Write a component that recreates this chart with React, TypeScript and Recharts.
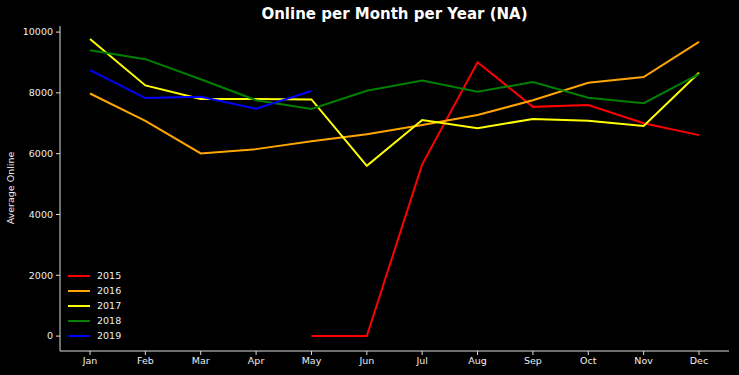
import React from 'react';
import { LineChart, Line, XAxis, YAxis } from 'recharts';

const months = ['Jan', 'Feb', 'Mar', 'Apr', 'May', 'Jun', 'Jul', 'Aug', 'Sep', 'Oct', 'Nov', 'Dec'];

const y2015 = [null, null, null, null, 0, 0, 5650, 9010, 7540, 7600, 7000, 6610];
const y2016 = [7980, 7080, 6010, 6150, 6410, 6640, 6940, 7270, 7760, 8330, 8520, 9680];
const y2017 = [9770, 8245, 7800, 7800, 7785, 5600, 7105, 6840, 7140, 7080, 6910, 8660];
const y2018 = [9400, 9110, 8450, 7760, 7470, 8070, 8410, 8040, 8355, 7840, 7660, 8620];
const y2019 = [8750, 7830, 7870, 7480, 8060, null, null, null, null, null, null, null];

const yTicks = [0, 2000, 4000, 6000, 8000, 10000];

const series = [
  { key: '2015', color: '#ff0000', values: y2015 },
  { key: '2016', color: '#ffa500', values: y2016 },
  { key: '2017', color: '#ffff00', values: y2017 },
  { key: '2018', color: '#008000', values: y2018 },
  { key: '2019', color: '#0000ff', values: y2019 },
];

const data = months.map((m, i) => {
  const row: Record<string, any> = { month: m };
  series.forEach((s) => {
    row[s.key] = s.values[i];
  });
  return row;
});

const FONT = 'DejaVu Sans, sans-serif';
const tickStyle = { fill: '#eeeeee', fontSize: 9.5, fontFamily: FONT };

function LegendBox() {
  return (
    <div
      style={{
        position: 'absolute',
        left: 68,
        top: 268,
        fontFamily: FONT,
        fontSize: 9.5,
        color: '#eeeeee',
      }}
    >
      {series.map((s) => (
        <div key={s.key} style={{ display: 'flex', alignItems: 'center', height: 15 }}>
          <div style={{ width: 22, height: 2, background: s.color, marginRight: 7 }} />
          <span>{s.key}</span>
        </div>
      ))}
    </div>
  );
}

export default function App() {
  return (
    <div style={{ position: 'fixed', left: 0, top: 0, width: 739, height: 375, background: '#000' }}>
      <div
        style={{
          position: 'absolute',
          left: 60,
          width: 669,
          top: 5,
          textAlign: 'center',
          color: '#fff',
          fontFamily: FONT,
          fontWeight: 'bold',
          fontSize: 15,
        }}
      >
        Online per Month per Year (NA)
      </div>
      <LineChart width={739} height={375} data={data} margin={{ top: 26, right: 10, bottom: 0, left: 0 }}>
        <XAxis
          dataKey="month"
          height={24}
          padding={{ left: 30, right: 30 }}
          stroke="#dddddd"
          tick={tickStyle}
          tickSize={4}
          tickMargin={2}
        />
        <YAxis
          width={60}
          type="number"
          domain={[-490, 10200]}
          ticks={yTicks}
          allowDataOverflow
          stroke="#dddddd"
          tick={tickStyle}
          tickSize={4}
          tickMargin={3}
          label={{
            content: () => (
              <text
                x={14}
                y={188}
                transform="rotate(-90 14 188)"
                textAnchor="middle"
                fill="#eeeeee"
                fontSize={9.5}
                fontFamily={FONT}
              >
                Average Online
              </text>
            ),
          }}
        />
        {series.map((s) => (
          <Line
            key={s.key}
            dataKey={s.key}
            stroke={s.color}
            strokeWidth={2}
            dot={false}
            activeDot={false}
            isAnimationActive={false}
          />
        ))}
      </LineChart>
      <LegendBox />
    </div>
  );
}
